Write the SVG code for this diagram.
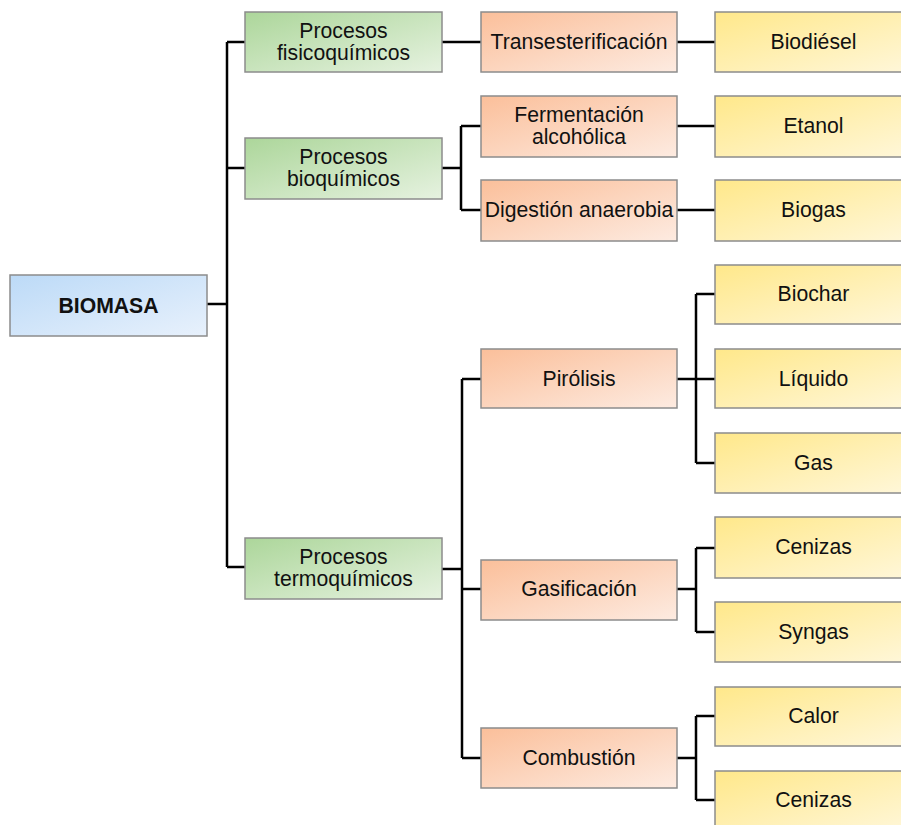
<svg xmlns="http://www.w3.org/2000/svg" width="901" height="825" viewBox="0 0 901 825">
<defs>
<linearGradient id="gBlue" x1="0" y1="0" x2="1" y2="1"><stop offset="0" stop-color="#bcdaf7"/><stop offset="1" stop-color="#e8f1fc"/></linearGradient>
<linearGradient id="gGreen" x1="0" y1="0" x2="1" y2="1"><stop offset="0" stop-color="#acd69a"/><stop offset="1" stop-color="#e6f2e0"/></linearGradient>
<linearGradient id="gOrange" x1="0" y1="0" x2="1" y2="1"><stop offset="0" stop-color="#fbbf9a"/><stop offset="1" stop-color="#fdebe1"/></linearGradient>
<linearGradient id="gYellow" x1="0" y1="0" x2="1" y2="1"><stop offset="0" stop-color="#ffe88a"/><stop offset="1" stop-color="#fff7da"/></linearGradient>
</defs>
<style>
rect{stroke:#8c8c8c;stroke-width:1.5}
.b{fill:url(#gBlue)}.g{fill:url(#gGreen)}.o{fill:url(#gOrange)}.y{fill:url(#gYellow)}
text{font-family:"Liberation Sans",Arial,sans-serif;font-size:21.2px;fill:#111;text-anchor:middle}
.bold{font-weight:bold}
#connectors path{fill:none;stroke:#000;stroke-width:2.5}
</style>
<g id="connectors">
<path d="M207,304 H227 M227,42 V567 M227,42 H245 M227,168 H245 M227,567 H245"/>
<path d="M442,42 H481 M677,42 H715"/>
<path d="M442,168 H461 M461,126 V210 M461,126 H481 M461,210 H481 M677,126 H715 M677,210 H715"/>
<path d="M442,569 H462 M462,379 V758 M462,379 H481 M462,589 H481 M462,758 H481"/>
<path d="M677,379 H715 M696,294 V463 M696,294 H715 M696,463 H715"/>
<path d="M677,589 H696 M696,548 V632 M696,548 H715 M696,632 H715"/>
<path d="M677,758 H696 M696,716 V800 M696,716 H715 M696,800 H715"/>
</g>
<g id="biomasa"><rect class="b" x="10" y="275" width="197" height="61"/><text class="bold" x="108.5" y="313">BIOMASA</text></g>
<g id="fisico"><rect class="g" x="245" y="12" width="197" height="60"/><text x="343.5" y="38">Procesos</text><text x="343.5" y="60">fisicoquímicos</text></g>
<g id="bioq"><rect class="g" x="245" y="138" width="197" height="61"/><text x="343.5" y="164">Procesos</text><text x="343.5" y="186">bioquímicos</text></g>
<g id="termo"><rect class="g" x="245" y="538" width="197" height="61"/><text x="343.5" y="564">Procesos</text><text x="343.5" y="586">termoquímicos</text></g>
<g id="trans"><rect class="o" x="481" y="12" width="196" height="60"/><text x="579" y="49">Transesterificación</text></g>
<g id="ferm"><rect class="o" x="481" y="96" width="196" height="61"/><text x="579" y="122">Fermentación</text><text x="579" y="144">alcohólica</text></g>
<g id="dig"><rect class="o" x="481" y="180" width="196" height="61"/><text x="579" y="217">Digestión anaerobia</text></g>
<g id="piro"><rect class="o" x="481" y="349" width="196" height="59"/><text x="579" y="386">Pirólisis</text></g>
<g id="gasif"><rect class="o" x="481" y="560" width="196" height="60"/><text x="579" y="596">Gasificación</text></g>
<g id="comb"><rect class="o" x="481" y="728" width="196" height="60"/><text x="579" y="765">Combustión</text></g>
<g id="biodiesel"><rect class="y" x="715" y="12" width="197" height="60"/><text x="813.5" y="49">Biodiésel</text></g>
<g id="etanol"><rect class="y" x="715" y="96" width="197" height="61"/><text x="813.5" y="133">Etanol</text></g>
<g id="biogas"><rect class="y" x="715" y="180" width="197" height="61"/><text x="813.5" y="217">Biogas</text></g>
<g id="biochar"><rect class="y" x="715" y="265" width="197" height="59"/><text x="813.5" y="301">Biochar</text></g>
<g id="liquido"><rect class="y" x="715" y="349" width="197" height="59"/><text x="813.5" y="386">Líquido</text></g>
<g id="gas"><rect class="y" x="715" y="433" width="197" height="60"/><text x="813.5" y="470">Gas</text></g>
<g id="cenizas1"><rect class="y" x="715" y="517" width="197" height="61"/><text x="813.5" y="554">Cenizas</text></g>
<g id="syngas"><rect class="y" x="715" y="602" width="197" height="60"/><text x="813.5" y="639">Syngas</text></g>
<g id="calor"><rect class="y" x="715" y="687" width="197" height="59"/><text x="813.5" y="723">Calor</text></g>
<g id="cenizas2"><rect class="y" x="715" y="771" width="197" height="61"/><text x="813.5" y="807">Cenizas</text></g>
</svg>
